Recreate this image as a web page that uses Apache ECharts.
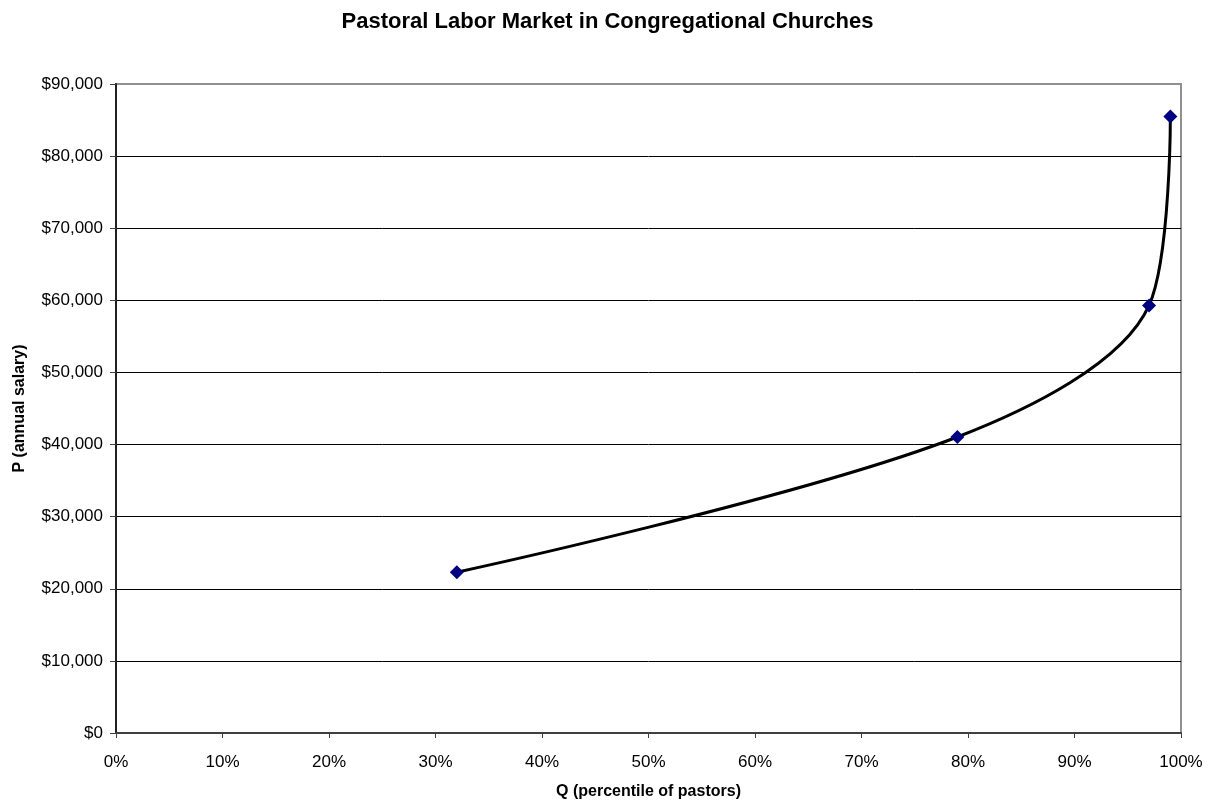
<!DOCTYPE html>
<html>
<head>
<meta charset="utf-8">
<script src="https://cdn.jsdelivr.net/npm/echarts@6/dist/echarts.min.js"></script>
<style>
  html, body { margin: 0; padding: 0; background: #fff; }
  #chart { width: 1215px; height: 803px; }
</style>
</head>
<body>
<div id="chart"></div>
<script>
const percentile = [32, 79, 97, 99]
const salary = [22300, 41050, 59300, 85500]

const chart = echarts.init(document.getElementById('chart'))

const font = 'Liberation Sans, Arial, sans-serif'

chart.setOption({
  animation: false,
  title: {
    text: 'Pastoral Labor Market in Congregational Churches',
    left: 'center',
    top: 6,
    textStyle: {
      fontFamily: font,
      fontSize: 22,
      fontWeight: 'bold',
      color: '#000'
    }
  },
  grid: {
    left: 116,
    right: 34,
    top: 84,
    bottom: 70,
    outerBoundsMode: 'none',
    show: true,
    borderColor: '#909090',
    borderWidth: 2
  },
  xAxis: {
    type: 'value',
    min: 0,
    max: 100,
    interval: 10,
    name: 'Q (percentile of pastors)',
    nameLocation: 'middle',
    nameGap: 51,
    nameTextStyle: {
      fontFamily: font,
      fontSize: 16,
      fontWeight: 'bold',
      color: '#000'
    },
    axisLine: { show: true, lineStyle: { color: '#404040', width: 2 } },
    axisTick: { show: true, inside: false, length: 5, lineStyle: { color: '#404040' } },
    axisLabel: {
      fontFamily: font,
      fontSize: 17,
      color: '#000',
      margin: 21,
      formatter: (v) => v + '%'
    },
    splitLine: { show: false }
  },
  yAxis: {
    type: 'value',
    min: 0,
    max: 90000,
    interval: 10000,
    name: 'P (annual salary)',
    nameLocation: 'middle',
    nameGap: 88,
    nameTextStyle: {
      fontFamily: font,
      fontSize: 16,
      fontWeight: 'bold',
      color: '#000'
    },
    axisLine: { show: true, lineStyle: { color: '#202020', width: 2 } },
    axisTick: { show: true, inside: false, length: 6, lineStyle: { color: '#404040' } },
    axisLabel: {
      fontFamily: font,
      fontSize: 17,
      color: '#000',
      margin: 13,
      formatter: (v) => '$' + v.toLocaleString('en-US')
    },
    splitLine: {
      show: true,
      lineStyle: {
        color: ['#000', '#000', '#000', '#000', '#000', '#000', '#000', '#000', '#000', 'rgba(0,0,0,0)'],
        width: 1
      }
    }
  },
  series: [
    {
      type: 'line',
      data: percentile.map((q, i) => [q, salary[i]]),
      smooth: 0.33,
      symbol: 'diamond',
      symbolSize: 14,
      itemStyle: { color: '#000080' },
      lineStyle: { color: '#000', width: 3 },
      z: 3
    }
  ]
})
</script>
</body>
</html>
